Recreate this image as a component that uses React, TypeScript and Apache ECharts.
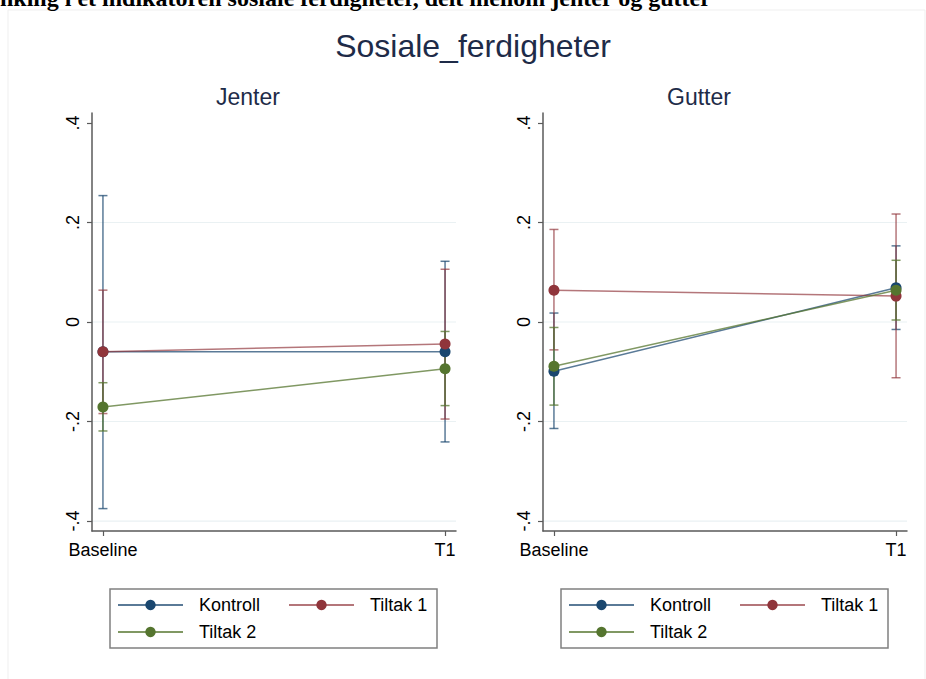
import React, { useEffect, useRef } from "react";
import * as echarts from "echarts";

const categories = ["Baseline", "T1"];
const groups = ["Kontroll", "Tiltak 1", "Tiltak 2"];
const panels = ["Jenter", "Gutter"];
const yTicks = [-0.4, -0.2, 0, 0.2, 0.4];
const yTickLabels = ["-.4", "-.2", "0", ".2", ".4"];
const gridValues = [-0.4, -0.2, 0, 0.2];

// Jenter
const jenterKontroll = [-0.06, -0.06];
const jenterKontrollLow = [-0.375, -0.241];
const jenterKontrollHigh = [0.254, 0.122];
const jenterTiltak1 = [-0.06, -0.044];
const jenterTiltak1Low = [-0.184, -0.195];
const jenterTiltak1High = [0.064, 0.106];
const jenterTiltak2 = [-0.171, -0.094];
const jenterTiltak2Low = [-0.219, -0.168];
const jenterTiltak2High = [-0.122, -0.019];

// Gutter
const gutterKontroll = [-0.099, 0.069];
const gutterKontrollLow = [-0.214, -0.015];
const gutterKontrollHigh = [0.018, 0.153];
const gutterTiltak1 = [0.064, 0.052];
const gutterTiltak1Low = [-0.056, -0.112];
const gutterTiltak1High = [0.186, 0.217];
const gutterTiltak2 = [-0.089, 0.064];
const gutterTiltak2Low = [-0.167, 0.004];
const gutterTiltak2High = [-0.011, 0.124];

const markerColors = ["#1a476f", "#90353b", "#55752f"];
const lineColors = ["rgba(26,71,111,0.72)", "rgba(144,53,59,0.68)", "rgba(85,117,47,0.75)"];

const panelData = [
  {
    mean: [jenterKontroll, jenterTiltak1, jenterTiltak2],
    low: [jenterKontrollLow, jenterTiltak1Low, jenterTiltak2Low],
    high: [jenterKontrollHigh, jenterTiltak1High, jenterTiltak2High],
  },
  {
    mean: [gutterKontroll, gutterTiltak1, gutterTiltak2],
    low: [gutterKontrollLow, gutterTiltak1Low, gutterTiltak2Low],
    high: [gutterKontrollHigh, gutterTiltak1High, gutterTiltak2High],
  },
];

const FONT = "Liberation Sans, Arial, sans-serif";
const gridLefts = [92, 543];
const GRID_TOP = 113;
const GRID_W = 364;
const GRID_H = 418;

export default function App() {
  const ref = useRef<HTMLDivElement>(null);
  useEffect(() => {
    if (!ref.current) return;
    const chart = echarts.init(ref.current, null, { renderer: "svg" });

    const series: any[] = [];
    panels.forEach((_, p) => {
      series.push({
        type: "custom",
        xAxisIndex: p,
        yAxisIndex: p,
        silent: true,
        z: 0,
        data: gridValues.map((v) => [v]),
        renderItem: (params: any, api: any) => {
          const cs = params.coordSys;
          const pt = api.coord([0, api.value(0)]);
          return {
            type: "line",
            shape: { x1: cs.x, y1: pt[1], x2: cs.x + cs.width, y2: pt[1] },
            style: { stroke: "#eaf1f3", lineWidth: 1.2 },
          };
        },
      });
      groups.forEach((g, gi) => {
        const d = panelData[p];
        series.push({
          type: "custom",
          xAxisIndex: p,
          yAxisIndex: p,
          silent: true,
          z: 2,
          data: categories.map((_, ci) => [ci, d.low[gi][ci], d.high[gi][ci]]),
          renderItem: (params: any, api: any) => {
            const lo = api.coord([api.value(0), api.value(1)]);
            const hi = api.coord([api.value(0), api.value(2)]);
            const hw = 4.5;
            const st = { stroke: lineColors[gi], lineWidth: 1.5 };
            return {
              type: "group",
              children: [
                { type: "line", shape: { x1: lo[0], y1: lo[1], x2: hi[0], y2: hi[1] }, style: st },
                { type: "line", shape: { x1: lo[0] - hw, y1: lo[1], x2: lo[0] + hw, y2: lo[1] }, style: st },
                { type: "line", shape: { x1: hi[0] - hw, y1: hi[1], x2: hi[0] + hw, y2: hi[1] }, style: st },
              ],
            };
          },
        });
      });
      groups.forEach((g, gi) => {
        const d = panelData[p];
        series.push({
          type: "line",
          name: g,
          xAxisIndex: p,
          yAxisIndex: p,
          z: 3 + gi,
          symbol: "circle",
          symbolSize: 11,
          itemStyle: { color: markerColors[gi] },
          lineStyle: { color: lineColors[gi], width: 1.5 },
          data: categories.map((_, ci) => [ci, d.mean[gi][ci]]),
        });
      });
    });

    const xAxes = panels.map((_, p) => ({
      type: "value",
      gridIndex: p,
      min: -0.032,
      max: 1.032,
      axisLine: { show: true, onZero: false, lineStyle: { color: "#5a5a5a", width: 1.5 } },
      axisTick: { show: true, length: 5, customValues: [0, 1], lineStyle: { color: "#5a5a5a", width: 1.2 } },
      axisLabel: {
        customValues: [0, 1],
        formatter: (v: number) => categories[Math.round(v)],
        color: "#000",
        fontSize: 18,
        fontFamily: FONT,
        margin: 10,
      },
      splitLine: { show: false },
    }));

    const yAxes = panels.map((_, p) => ({
      type: "value",
      gridIndex: p,
      min: -0.42,
      max: 0.42,
      axisLine: { show: true, onZero: false, lineStyle: { color: "#5a5a5a", width: 1.5 } },
      axisTick: { show: true, length: 5, customValues: yTicks, lineStyle: { color: "#5a5a5a", width: 1.2 } },
      axisLabel: {
        customValues: yTicks,
        formatter: (v: number) => yTickLabels[yTicks.findIndex((t) => Math.abs(t - v) < 1e-6)],
        rotate: 90,
        color: "#000",
        fontSize: 18,
        fontFamily: FONT,
        margin: 10,
      },
      splitLine: { show: false },
    }));

    const legends = panels.map((_, p) => ({
      show: true,
      data: groups,
      left: gridLefts[p] - 92 + 117,
      top: 595,
      width: 350,
      orient: "horizontal",
      padding: 0,
      itemGap: 7,
      itemWidth: 65,
      itemHeight: 13,
      selectedMode: false,
      textStyle: {
        fontSize: 18,
        fontFamily: FONT,
        color: "#000",
        width: 82,
        padding: [0, 0, 0, 11],
        lineHeight: 20,
      },
    }));

    const graphic: any[] = [
      {
        type: "rect",
        shape: { x: 8, y: 10, width: 917, height: 690 },
        style: { fill: "none", stroke: "#efefef", lineWidth: 1 },
        silent: true,
      },
      {
        type: "text",
        x: 0,
        y: 10,
        style: {
          text: "nking i et indikatoren sosiale ferdigheter, delt mellom jenter og gutter",
          font: "bold 24px 'Liberation Serif', 'Times New Roman', serif",
          fill: "#000",
          verticalAlign: "bottom",
        },
      },
      {
        type: "text",
        x: 473,
        y: 46,
        style: {
          text: "Sosiale_ferdigheter",
          font: "32px " + FONT,
          fill: "#1e2b48",
          align: "center",
          verticalAlign: "middle",
        },
      },
      ...panels.map((t, p) => ({
        type: "text",
        x: gridLefts[p] + GRID_W / 2 - 26,
        y: 97,
        style: {
          text: t,
          font: "23px " + FONT,
          fill: "#1e2b48",
          align: "center",
          verticalAlign: "middle",
        },
      })),
      ...panels.map((_, p) => ({
        type: "rect",
        shape: { x: p === 0 ? 110 : 561, y: 589, width: 327, height: 59 },
        style: { fill: "none", stroke: "#808080", lineWidth: 1.5 },
        silent: true,
      })),
    ];

    chart.setOption({
      animation: false,
      backgroundColor: "#fff",
      grid: panels.map((_, p) => ({ left: gridLefts[p], top: GRID_TOP, width: GRID_W, height: GRID_H })),
      xAxis: xAxes,
      yAxis: yAxes,
      legend: legends,
      graphic,
      series,
    });
    return () => chart.dispose();
  }, []);

  return (
    <div
      ref={ref}
      style={{ position: "absolute", left: 0, top: 0, width: 926, height: 679 }}
    />
  );
}
